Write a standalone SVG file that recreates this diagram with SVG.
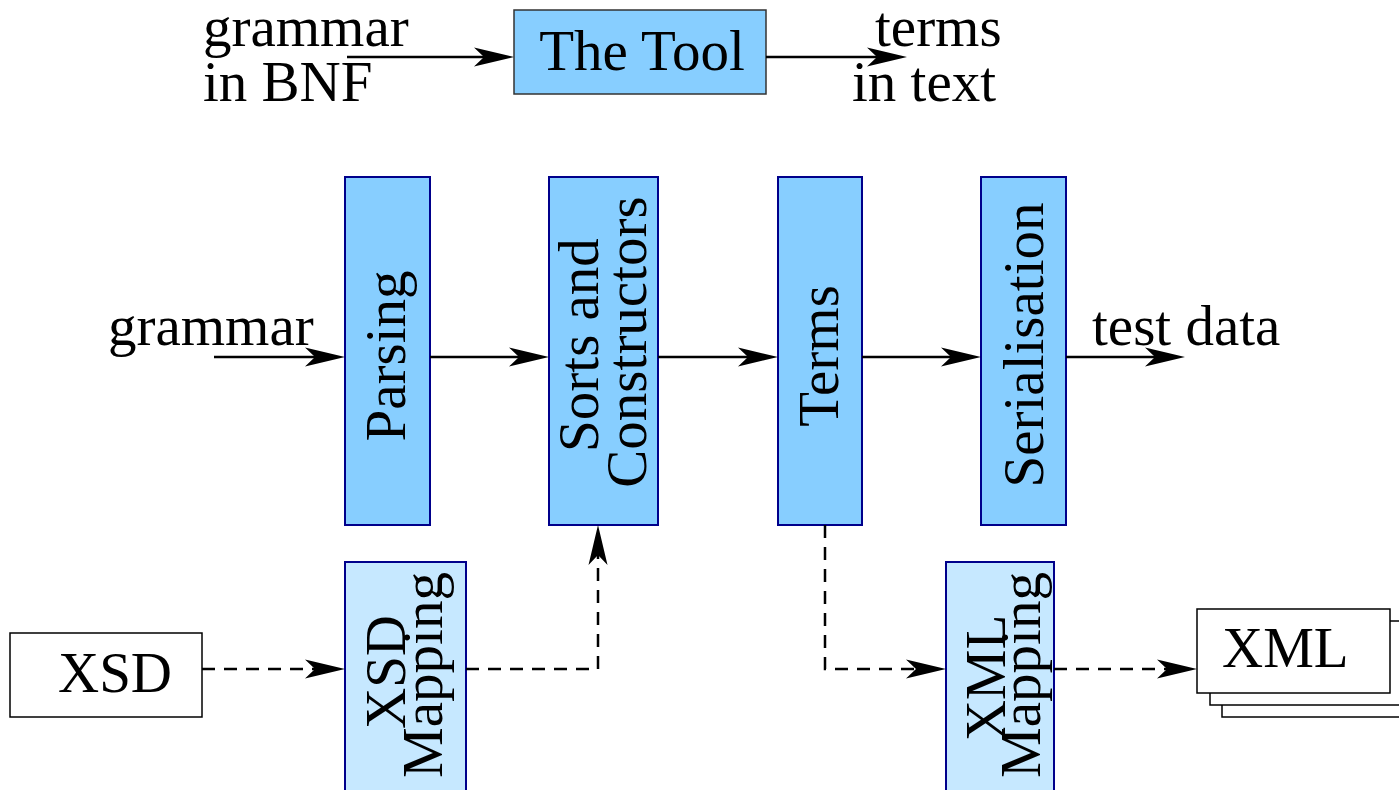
<svg xmlns="http://www.w3.org/2000/svg" width="1399" height="790" viewBox="0 0 1399 790">
  <style>
    text { font-family: "Liberation Serif", "Times New Roman", serif; font-size: 57px; fill: #000; }
    .mid { text-anchor: middle; }
    .stage { fill: #87ceff; stroke: #00008b; stroke-width: 2; }
    .map { fill: #c6e8ff; stroke: #00008b; stroke-width: 2; }
    .tool { fill: #87ceff; stroke: #333; stroke-width: 1.5; }
    .doc { fill: #fff; stroke: #000; stroke-width: 1.5; }
    .flow { fill: none; stroke: #000; stroke-width: 2.5; marker-end: url(#head); }
    .dash { stroke-dasharray: 13 9; }
  </style>
  <defs>
    <marker id="head" markerUnits="userSpaceOnUse" viewBox="0 0 40 20" refX="12" refY="10" markerWidth="40" markerHeight="20" orient="auto">
      <path d="M0,0.5 L40,10 L0,19.5 L10,10 Z" fill="#000" stroke="none"/>
    </marker>
  </defs>

  <!-- overview: grammar in, terms out -->
  <g id="tool">
    <rect class="tool" x="514" y="10" width="252" height="84"/>
    <text class="mid" x="642" y="70">The Tool</text>
  </g>
  <g id="grammar-bnf">
    <text x="203" y="46">grammar</text>
    <text x="203" y="101">in BNF</text>
  </g>
  <g id="terms-text">
    <text x="875" y="46">terms</text>
    <text x="852" y="101">in text</text>
  </g>

  <!-- pipeline stages -->
  <g id="grammar-input">
    <text x="108" y="345">grammar</text>
  </g>
  <g id="parsing">
    <rect class="stage" x="345" y="177" width="85" height="348"/>
    <text class="mid" transform="translate(405,356) rotate(-90)">Parsing</text>
  </g>
  <g id="sorts">
    <rect class="stage" x="549" y="177" width="109" height="348"/>
    <text class="mid" transform="translate(598,345) rotate(-90)">Sorts and</text>
    <text class="mid" transform="translate(646,342) rotate(-90)">Constructors</text>
  </g>
  <g id="terms">
    <rect class="stage" x="778" y="177" width="84" height="348"/>
    <text class="mid" transform="translate(838,356) rotate(-90)">Terms</text>
  </g>
  <g id="serialisation">
    <rect class="stage" x="981" y="177" width="85" height="348"/>
    <text class="mid" transform="translate(1043,345) rotate(-90)">Serialisation</text>
  </g>
  <g id="test-data">
    <text x="1092" y="345">test data</text>
  </g>

  <!-- XML side -->
  <g id="xsd">
    <rect class="doc" x="10" y="633" width="192" height="84"/>
    <text x="58" y="692">XSD</text>
  </g>
  <g id="xsd-mapping">
    <rect class="map" x="345" y="562" width="121" height="232"/>
    <text class="mid" transform="translate(405,672) rotate(-90)">XSD</text>
    <text class="mid" transform="translate(442,675) rotate(-90)">Mapping</text>
  </g>
  <g id="xml-mapping">
    <rect class="map" x="946" y="562" width="108" height="232"/>
    <text class="mid" transform="translate(1005,678) rotate(-90)">XML</text>
    <text class="mid" transform="translate(1040,675) rotate(-90)">Mapping</text>
  </g>
  <g id="xml">
    <rect class="doc" x="1222" y="633" width="193" height="84"/>
    <rect class="doc" x="1210" y="621" width="193" height="84"/>
    <rect class="doc" x="1197" y="609" width="193" height="84"/>
    <text x="1222" y="667">XML</text>
  </g>

  <g id="connectors">
    <path class="flow" d="M347,57 H486"/>
    <path class="flow" d="M766,57 H879"/>
    <path class="flow" d="M214,357 H317"/>
    <path class="flow" d="M430,357 H521"/>
    <path class="flow" d="M658,357 H750"/>
    <path class="flow" d="M862,357 H953"/>
    <path class="flow" d="M1066,357 H1157"/>
    <path class="flow dash" d="M202,669 H317"/>
    <path class="flow dash" d="M466,669 H598 V553"/>
    <path class="flow dash" d="M825,525 V669 H918"/>
    <path class="flow dash" d="M1054,669 H1169"/>
  </g>
</svg>
